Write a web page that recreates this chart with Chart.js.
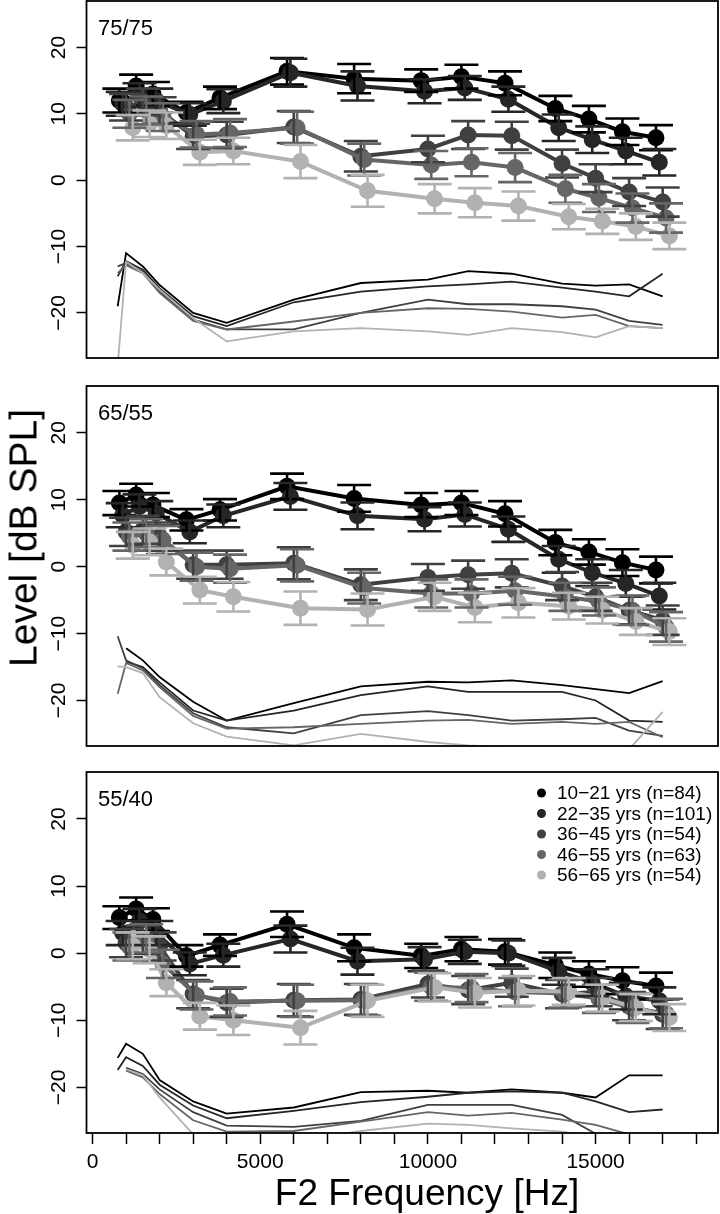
<!DOCTYPE html>
<html>
<head>
<meta charset="utf-8">
<script src="https://cdn.jsdelivr.net/npm/chart.js@4"></script>
<style>
body{margin:0;background:#fff;width:720px;height:1214px;position:relative;overflow:hidden;font-family:'Liberation Sans',Arial,sans-serif}
canvas{position:absolute;left:0}
#ytitle{position:absolute;left:23px;top:538px;transform:translate(-50%,-50%) rotate(-90deg);font-size:39px;white-space:nowrap;line-height:1}
#xtitle{position:absolute;left:427px;top:1192px;transform:translate(-50%,-50%);font-size:37px;white-space:nowrap;line-height:1}
</style>
</head>
<body>
<canvas id="c1" width="720" height="362" style="top:0"></canvas>
<canvas id="c2" width="720" height="370" style="top:380px"></canvas>
<canvas id="c3" width="720" height="449" style="top:765px"></canvas>
<div id="ytitle">Level [dB SPL]</div>
<div id="xtitle">F2 Frequency [Hz]</div>
<script>
// frequencies (Hz)
const freqs = [1000, 1500, 2000, 3000, 4000, 6000, 8000, 10000, 11200, 12500, 14000, 15000, 16000, 17000];
const noiseFreqs = [750, 1000, 1500, 2000, 3000, 4000, 6000, 8000, 10000, 11200, 12500, 14000, 15000, 16000, 17000];
const groups = ['10−21 yrs (n=84)', '22−35 yrs (n=101)', '36−45 yrs (n=54)', '46−55 yrs (n=63)', '56−65 yrs (n=54)'];
const panelTitles = ['75/75', '65/55', '55/40'];
const yTicks = [-20, -10, 0, 10, 20];
const xTicks = [0, 1000, 2000, 3000, 4000, 5000, 6000, 7000, 8000, 9000, 10000, 11000, 12000, 13000, 14000, 15000, 16000, 17000, 18000];
const xLabelTicks = [0, 5000, 10000, 15000];

// 75/75 means
const p1_10_21 = [12.0, 14.2, 13.0, 10.2, 12.4, 16.4, 15.3, 15.0, 15.6, 14.6, 10.8, 9.2, 7.3, 6.4];
const p1_22_35 = [11.5, 12.8, 12.0, 9.9, 11.9, 16.2, 14.2, 13.4, 13.9, 12.2, 7.9, 6.1, 4.4, 2.7];
const p1_36_45 = [11.0, 11.8, 10.5, 6.6, 6.8, 8.0, 3.6, 4.7, 6.8, 6.7, 2.5, 0.3, -1.8, -3.3];
const p1_46_55 = [10.0, 10.5, 9.5, 6.9, 7.1, 7.9, 3.1, 2.3, 2.7, 1.9, -1.3, -2.7, -4.2, -5.7];
const p1_56_65 = [7.9, 8.5, 8.2, 4.2, 4.4, 2.8, -1.6, -2.8, -3.4, -3.9, -5.5, -6.2, -7.0, -8.4];
// 65/55 means
const p2_10_21 = [9.5, 10.7, 9.2, 7.0, 8.5, 12.0, 10.2, 9.2, 9.5, 7.9, 3.6, 2.2, 0.6, -0.5];
const p2_22_35 = [7.7, 9.0, 8.0, 5.2, 7.6, 10.5, 7.6, 7.1, 7.8, 5.6, 1.1, -0.9, -2.5, -4.4];
const p2_36_45 = [5.2, 5.5, 4.5, 0.3, 0.3, 0.5, -2.7, -1.6, -1.2, -1.0, -2.9, -4.5, -6.5, -8.0];
const p2_46_55 = [4.5, 5.0, 4.0, 0.0, -0.3, 0.2, -3.2, -4.0, -4.0, -3.6, -4.5, -5.2, -6.5, -9.0];
const p2_56_65 = [3.2, 3.7, 0.7, -3.5, -4.5, -6.2, -6.4, -4.5, -6.1, -5.4, -5.9, -6.5, -8.2, -9.7];
// 55/40 means
const p3_10_21 = [5.3, 6.6, 5.0, -0.4, 1.2, 4.3, 0.8, -0.4, 0.6, 0.2, -1.8, -3.1, -4.1, -4.9];
const p3_22_35 = [3.0, 4.8, 3.0, -1.6, -0.3, 2.1, -1.2, -0.9, 0.2, 0.0, -2.7, -4.4, -6.4, -7.1];
const p3_36_45 = [1.5, 2.0, 1.0, -6.1, -7.4, -7.0, -6.9, -4.6, -5.5, -4.4, -6.1, -5.8, -7.9, -9.1];
const p3_46_55 = [1.0, 2.2, -1.6, -6.3, -7.2, -7.1, -7.0, -5.0, -5.2, -5.8, -6.0, -6.8, -8.2, -9.0];
const p3_56_65 = [1.1, 0.5, -4.4, -9.4, -10.0, -11.1, -7.1, -5.1, -5.9, -5.6, -5.7, -6.7, -8.1, -9.6];

// error bar half-lengths (dB)
const p1_err = [
  [1.8, 1.7, 1.8, 1.6, 1.7, 2.0, 2.2, 1.7, 1.8, 1.8, 1.9, 2.0, 2.0, 1.9],
  [1.8, 1.8, 1.8, 1.7, 1.8, 2.1, 2.2, 1.8, 1.8, 1.9, 2.0, 2.0, 2.0, 2.0],
  [2.0, 2.0, 2.0, 1.9, 2.0, 2.4, 2.3, 2.0, 2.1, 2.1, 2.1, 2.1, 2.1, 2.2],
  [2.1, 2.1, 2.1, 2.0, 2.1, 2.4, 2.4, 2.1, 2.1, 2.2, 2.1, 2.1, 2.2, 2.2],
  [1.9, 2.0, 2.0, 1.9, 2.0, 2.5, 2.4, 2.2, 2.2, 2.2, 1.9, 1.9, 2.0, 2.0]
];
const p2_err = [
  [1.8, 1.7, 1.8, 1.6, 1.6, 1.9, 2.0, 1.8, 1.8, 1.9, 1.9, 1.9, 2.0, 2.0],
  [1.8, 1.8, 1.8, 1.7, 1.7, 2.0, 2.0, 1.8, 1.8, 1.9, 2.0, 2.0, 2.0, 2.0],
  [2.1, 2.1, 2.1, 2.1, 2.1, 2.4, 2.3, 2.0, 2.1, 2.1, 2.1, 2.1, 2.1, 2.2],
  [2.1, 2.1, 2.1, 2.1, 2.1, 2.4, 2.3, 2.1, 2.1, 2.1, 2.1, 2.1, 2.2, 2.2],
  [2.0, 2.0, 2.0, 2.0, 2.2, 2.5, 2.4, 2.1, 2.2, 2.2, 2.0, 2.0, 2.0, 2.0]
];
const p3_err = [
  [1.7, 1.7, 1.7, 1.6, 1.6, 1.9, 2.0, 1.8, 1.8, 1.9, 1.9, 1.9, 2.0, 2.0],
  [1.8, 1.8, 1.8, 1.7, 1.7, 2.0, 2.0, 1.8, 1.8, 1.9, 2.0, 2.0, 2.0, 2.0],
  [2.1, 2.1, 2.1, 2.1, 2.1, 2.4, 2.3, 2.0, 2.1, 2.1, 2.1, 2.1, 2.1, 2.2],
  [2.1, 2.1, 2.1, 2.1, 2.1, 2.4, 2.3, 2.1, 2.1, 2.1, 2.1, 2.1, 2.2, 2.2],
  [2.0, 2.0, 2.0, 2.0, 2.2, 2.5, 2.4, 2.1, 2.2, 2.2, 2.0, 2.0, 2.0, 2.0]
];

// noise floor per group
const n1_10_21 = [-19.0, -11.0, -13.0, -15.8, -20.0, -21.5, -18.0, -15.5, -15.0, -13.7, -14.1, -15.6, -15.9, -15.7, -17.5];
const n1_22_35 = [-14.5, -12.2, -13.5, -16.3, -20.5, -22.0, -18.4, -16.8, -16.0, -15.7, -15.3, -16.2, -16.8, -17.5, -14.1];
const n1_36_45 = [-13.0, -12.5, -13.8, -16.8, -21.0, -22.5, -22.5, -20.0, -18.0, -18.7, -18.7, -19.0, -19.5, -21.2, -21.8];
const n1_46_55 = [-14.0, -12.8, -14.0, -17.0, -21.2, -22.5, -21.3, -20.0, -19.3, -19.4, -19.8, -20.7, -20.3, -22.0, -22.3];
const n1_56_65 = [-28.0, -12.3, -14.0, -16.5, -20.8, -24.3, -22.8, -22.3, -22.8, -23.3, -22.3, -22.9, -23.7, -22.0, -22.3];

const n2_10_21 = [null, -12.2, -14.0, -16.5, -20.2, -23.0, -20.4, -17.9, -17.2, -17.3, -17.0, -17.7, -18.3, -18.9, -17.1];
const n2_22_35 = [null, -14.2, -15.0, -17.3, -21.5, -23.0, -21.5, -19.2, -17.9, -18.7, -18.7, -18.7, -20.0, -23.0, -23.2];
const n2_36_45 = [-10.4, -14.0, -15.2, -17.7, -21.9, -24.0, -24.9, -22.2, -21.6, -22.2, -23.0, -22.8, -22.6, -24.5, -25.3];
const n2_46_55 = [-19.0, -14.4, -15.5, -18.0, -22.3, -24.2, -24.0, -23.5, -23.0, -22.9, -23.5, -23.2, -23.5, -23.2, -25.5];
const n2_56_65 = [-14.9, -15.0, -15.9, -19.5, -23.4, -25.4, -26.7, -25.0, -26.2, -26.7, -27.0, -27.0, -27.0, -27.3, -21.7];

const n3_10_21 = [-15.6, -13.5, -15.0, -18.9, -22.1, -23.9, -23.0, -20.7, -20.5, -20.8, -20.3, -20.8, -21.5, -18.2, -18.2];
const n3_22_35 = [-17.4, -15.5, -16.8, -19.6, -22.7, -24.6, -23.5, -22.2, -21.4, -20.8, -20.6, -20.8, -22.1, -23.7, -23.3];
const n3_36_45 = [null, -17.1, -18.0, -20.3, -23.7, -25.7, -25.9, -25.0, -22.6, -22.6, -22.6, -24.1, -26.9, -28.0, null];
const n3_46_55 = [null, -17.5, -18.5, -21.0, -24.9, -26.6, -26.5, -25.1, -23.7, -24.2, -23.8, -24.8, -25.6, -27.0, -28.0];
const n3_56_65 = [null, -17.3, -18.2, -21.5, -27.0, -29.0, -28.0, -26.5, -25.4, -25.6, -26.1, -26.6, -27.5, -28.0, null];

const colors = ['#000000', '#262626', '#404040', '#666666', '#b2b2b2'];
const offsets = [-200, -100, 0, 100, 200];

Chart.defaults.font.family = "'Liberation Sans', Arial, sans-serif";
Chart.defaults.color = '#000';

function minusFmt(v) {
  return v < 0 ? '\u2212' + Math.abs(v) : String(v);
}

// box, error bars, rotated y labels, panel title, legend
const panelDeco = {
  id: 'panelDeco',
  afterDatasetsDraw(chart, args, opts) {
    const ctx = chart.ctx, a = chart.chartArea;
    const xs = chart.scales.x, ys = chart.scales.y;
    ctx.save();
    chart.data.datasets.forEach(d => {
      if (!d.errors) return;
      ctx.strokeStyle = d.borderColor;
      ctx.lineWidth = 2.6;
      d.data.forEach((p, j) => {
        const px = xs.getPixelForValue(p.x);
        const top = ys.getPixelForValue(p.y + d.errors[j]);
        const bot = ys.getPixelForValue(p.y - d.errors[j]);
        ctx.beginPath();
        ctx.moveTo(px, top); ctx.lineTo(px, bot);
        ctx.moveTo(px - 17, top); ctx.lineTo(px + 17, top);
        ctx.moveTo(px - 17, bot); ctx.lineTo(px + 17, bot);
        ctx.stroke();
      });
    });
    ctx.strokeStyle = '#000';
    ctx.lineWidth = 1.8;
    ctx.strokeRect(a.left, a.top, a.right - a.left, a.bottom - a.top);

    ctx.fillStyle = '#000';
    ctx.font = "21px 'Liberation Sans', Arial, sans-serif";
    ctx.textAlign = 'center';
    ctx.textBaseline = 'middle';
    ys.ticks.forEach(t => {
      const py = ys.getPixelForValue(t.value);
      ctx.save();
      ctx.translate(59, py);
      ctx.rotate(-Math.PI / 2);
      ctx.fillText(minusFmt(t.value), 0, 0);
      ctx.restore();
    });

    ctx.font = "22px 'Liberation Sans', Arial, sans-serif";
    ctx.textAlign = 'left';
    ctx.fillText(opts.title, a.left + 11.5, a.top + 28);

    if (opts.legend) {
      ctx.font = "19px 'Liberation Sans', Arial, sans-serif";
      groups.forEach((g, i) => {
        const ly = a.top + 21 + i * 20.5;
        ctx.fillStyle = colors[i];
        ctx.beginPath();
        ctx.arc(541.5, ly, 4.5, 0, Math.PI * 2);
        ctx.fill();
        ctx.fillStyle = '#000';
        ctx.fillText(g, 557, ly + 1);
      });
    }
    ctx.restore();
  }
};

function buildDatasets(means, errs, noise) {
  const ds = [];
  noise.forEach((vals, g) => {
    ds.push({
      label: groups[g] + ' noise',
      data: noiseFreqs.map((f, i) => ({x: f, y: vals[i]})),
      borderColor: colors[g],
      borderWidth: 1.8,
      pointRadius: 0,
      fill: false,
      order: 20 - g
    });
  });
  means.forEach((vals, g) => {
    ds.push({
      label: groups[g],
      data: freqs.map((f, i) => ({x: f + offsets[g], y: vals[i]})),
      borderColor: colors[g],
      backgroundColor: colors[g],
      pointBackgroundColor: colors[g],
      borderWidth: 4,
      pointRadius: 8.5,
      pointBorderWidth: 0,
      fill: false,
      order: 4 - g,
      errors: errs[g]
    });
  });
  return ds;
}

function makePanel(id, means, errs, noise, title, padding, bottom) {
  const xScale = {
    type: 'linear', min: -180, max: 18650, display: false
  };
  if (bottom) {
    Object.assign(xScale, {
      display: true,
      position: 'bottom',
      afterBuildTicks: s => { s.ticks = xTicks.map(v => ({value: v})); },
      afterFit: s => { s.height = 81; },
      grid: {drawOnChartArea: false, drawTicks: true, tickLength: 11, tickWidth: 1.5, tickColor: '#000'},
      border: {display: false},
      ticks: {
        autoSkip: false, maxRotation: 0, minRotation: 0, padding: 6, color: '#000',
        font: {size: 21},
        callback: v => xLabelTicks.includes(v) ? String(v) : ''
      }
    });
  }
  return new Chart(document.getElementById(id), {
    type: 'line',
    data: {datasets: buildDatasets(means, errs, noise)},
    options: {
      responsive: false,
      animation: false,
      layout: {padding: padding, autoPadding: false},
      plugins: {
        legend: {display: false},
        tooltip: {enabled: false},
        panelDeco: {title: title, legend: bottom}
      },
      scales: {
        x: xScale,
        y: {
          type: 'linear', min: -26.8, max: 27,
          afterBuildTicks: s => { s.ticks = yTicks.map(v => ({value: v})); },
          afterFit: s => { s.width = 86.5; },
          grid: {drawOnChartArea: false, drawTicks: true, tickLength: 10, tickWidth: 1.5, tickColor: '#000'},
          border: {display: false},
          ticks: {display: false}
        }
      }
    },
    plugins: [panelDeco]
  });
}

makePanel('c1',
  [p1_10_21, p1_22_35, p1_36_45, p1_46_55, p1_56_65], p1_err,
  [n1_10_21, n1_22_35, n1_36_45, n1_46_55, n1_56_65],
  panelTitles[0], {top: 1, bottom: 4, left: 0, right: 2}, false);
makePanel('c2',
  [p2_10_21, p2_22_35, p2_36_45, p2_46_55, p2_56_65], p2_err,
  [n2_10_21, n2_22_35, n2_36_45, n2_46_55, n2_56_65],
  panelTitles[1], {top: 6, bottom: 4, left: 0, right: 2}, false);
makePanel('c3',
  [p3_10_21, p3_22_35, p3_36_45, p3_46_55, p3_56_65], p3_err,
  [n3_10_21, n3_22_35, n3_36_45, n3_46_55, n3_56_65],
  panelTitles[2], {top: 7, bottom: 0, left: 0, right: 2}, true);
</script>
</body>
</html>
